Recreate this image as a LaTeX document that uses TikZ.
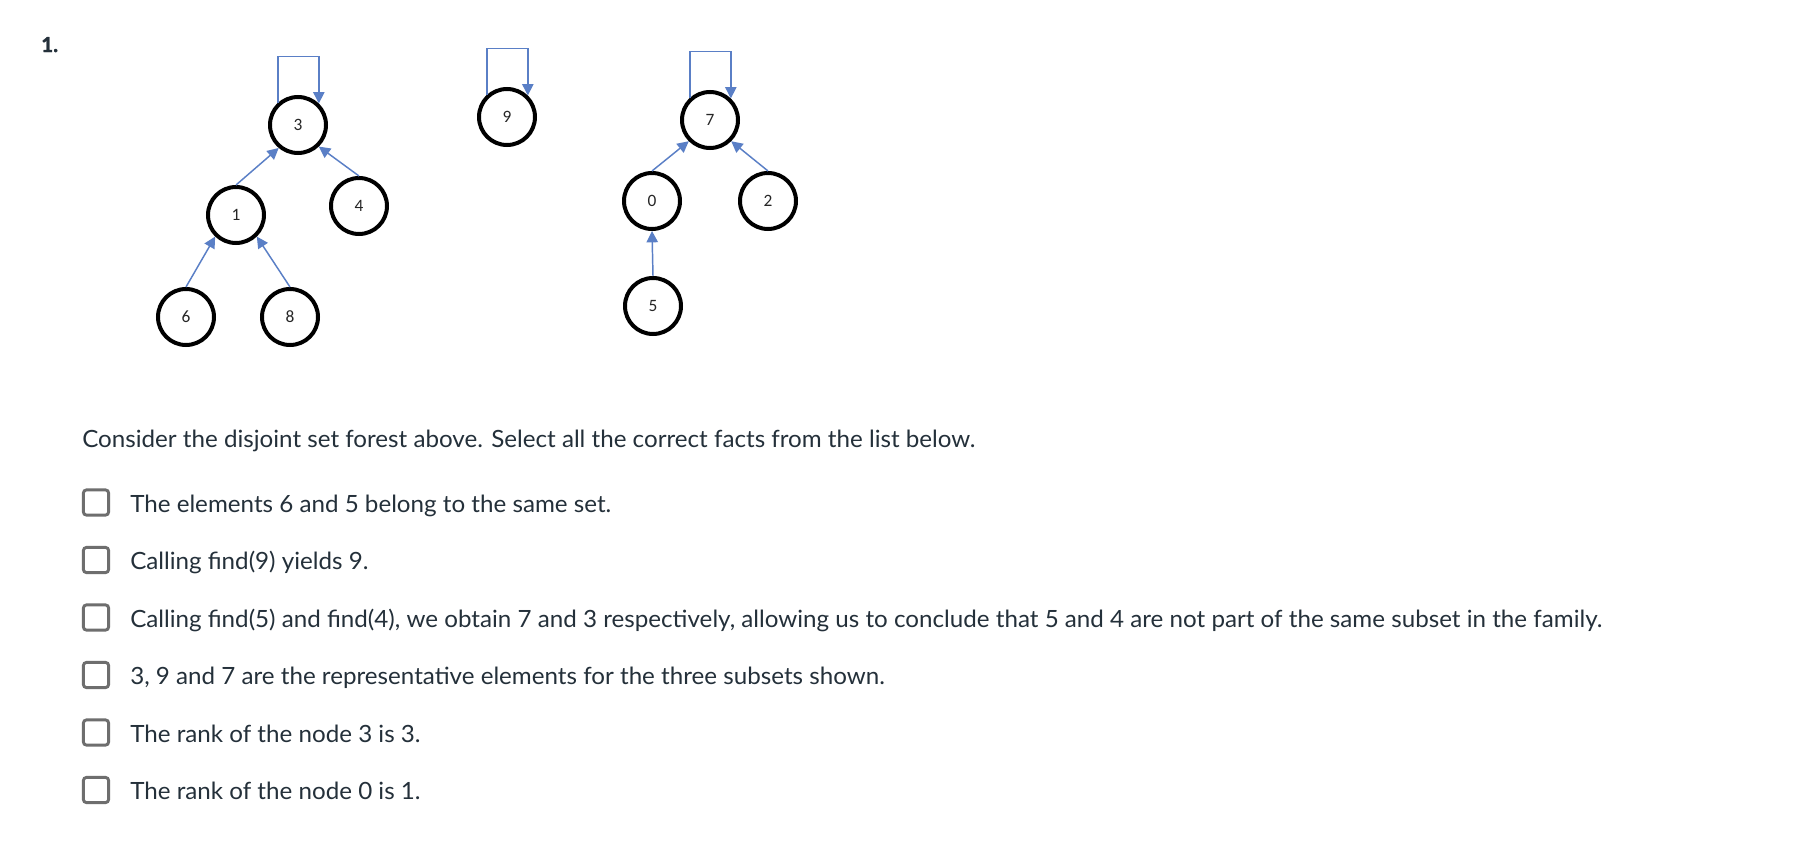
\documentclass[tikz,border=0pt]{standalone}
\usepackage{fontspec}
\usepackage{graphicx}
\setmainfont{Lato}
\newfontfamily\nodefont{Carlito}
\newfontfamily\numfont[FakeBold=1.5]{Lato Bold}
\usetikzlibrary{arrows.meta}
\definecolor{txt}{HTML}{24303A}
\definecolor{edgeblue}{HTML}{5A7FC6}
\definecolor{boxgray}{HTML}{6E6E6E}
\newlength\longw
\newcommand{\qfont}{\fontsize{17.8pt}{21pt}\selectfont}
\tikzset{
  elem/.style={circle, draw=black, line width=3pt, minimum size=42pt, inner sep=0pt,
    font=\nodefont\fontsize{13pt}{15pt}\selectfont, text=black!85},
  parent/.style={draw=edgeblue, line width=1.1pt, -{Triangle[length=8.5pt,width=8.5pt]}},
  cbox/.style={draw=boxgray, line width=2.2pt, rounded corners=2.5pt, minimum size=19pt, inner sep=0pt},
  qtext/.style={anchor=base west, inner sep=0pt, text=txt, font=\qfont},
}
\begin{document}
\settowidth\longw{\qfont Calling find(5) and find(4), we obtain 7 and 3 respectively, allowing us to conclude that 5 and 4 are not part of the same subset in the family.}%
\pgfmathsetmacro\sx{1104pt/\longw}%
\begin{tikzpicture}[x=0.75pt, y=-0.75pt]
\useasboundingbox[fill=white] (0,0) rectangle (1811,857);

\node[anchor=base west, inner sep=0pt, text=txt, font=\numfont\fontsize{15.5pt}{18pt}\selectfont] (num) at (41,52) {1.};

% tree 3
\node[elem] (n3) at (298,125) {3};
\node[elem] (n1) at (236,215) {1};
\node[elem] (n4) at (359,206) {4};
\node[elem] (n6) at (186,317) {6};
\node[elem] (n8) at (290,317) {8};
% tree 9
\node[elem] (n9) at (507,117) {9};
% tree 7
\node[elem] (n7) at (710,120) {7};
\node[elem] (n0) at (652,201) {0};
\node[elem] (n2) at (768,201) {2};
\node[elem] (n5) at (653,306) {5};

\draw[parent] (n1.north) -- (n3.230);
\draw[parent] (n4.north) -- (n3.314);
\draw[parent] (n6.north) -- (n1.226);
\draw[parent] (n8.north) -- (n1.314);
\draw[parent] (n0.north) -- (n7.225);
\draw[parent] (n2.north) -- (n7.315);
\draw[parent] (n5.north) -- (n0.south);

\draw[parent] (n3.132) -- ++(0,-46) -| (n3.46);
\draw[parent] (n9.132) -- ++(0,-46) -| (n9.46);
\draw[parent] (n7.132) -- ++(0,-46) -| (n7.46);

\node[qtext] (q) at (82,447) {\scalebox{\sx}[1]{Consider the disjoint set forest above. Select all the correct facts from the list below.}};

\node[cbox] (b1) at (96,502.5) {};
\node[cbox] (b2) at (96,560) {};
\node[cbox] (b3) at (96,617.5) {};
\node[cbox] (b4) at (96,675) {};
\node[cbox] (b5) at (96,732.5) {};
\node[cbox] (b6) at (96,790) {};

\node[qtext] (a1) at (130,512) {\scalebox{\sx}[1]{The elements 6 and 5 belong to the same set.}};
\node[qtext] (a2) at (130,569.5) {\scalebox{\sx}[1]{Calling find(9) yields 9.}};
\node[qtext] (a3) at (130,627) {\scalebox{\sx}[1]{Calling find(5) and find(4), we obtain 7 and 3 respectively, allowing us to conclude that 5 and 4 are not part of the same subset in the family.}};
\node[qtext] (a4) at (130,684.5) {\scalebox{\sx}[1]{3, 9 and 7 are the representative elements for the three subsets shown.}};
\node[qtext] (a5) at (130,742) {\scalebox{\sx}[1]{The rank of the node 3 is 3.}};
\node[qtext] (a6) at (130,799.5) {\scalebox{\sx}[1]{The rank of the node 0 is 1.}};
\end{tikzpicture}
\end{document}
